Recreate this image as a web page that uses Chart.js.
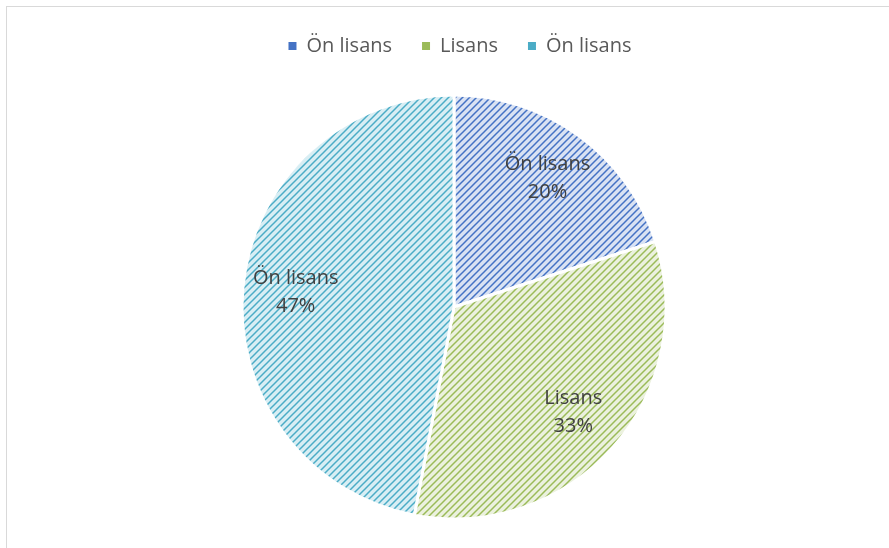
<!DOCTYPE html>
<html lang="tr">
<head>
    <meta charset="UTF-8">
    <title>Öğrenim durumu</title>
    <script src="https://cdn.jsdelivr.net/npm/chart.js"></script>
    <style>
        html, body { margin: 0; padding: 0; overflow: hidden; background: #fff; }
        /* ince gri çerçeve */
        #frame {
            position: absolute; left: 6px; top: 6px;
            width: 900px; height: 600px;
            border: 1px solid #d9d9d9;
        }
        #wrap { position: absolute; left: 0; top: 0; width: 889px; height: 548px; }
    </style>
</head>
<body>
    <div id="frame"></div>
    <div id="wrap"><canvas id="pieChart" width="889" height="548"></canvas></div>
    <script>
        // veriler
        var labels = ['Ön lisans', 'Lisans', 'Ön lisans'];
        var values = [20, 33, 47];
        var lineColors = ['#4472c4', '#9bbb59', '#4bacc6'];
        var backColors = ['#d9e2f3', '#ebf1de', '#d8eef4'];

        // çapraz taralı desen
        function hatch(fg, bg) {
            var size = 7;
            var c = document.createElement('canvas');
            c.width = size; c.height = size;
            var g = c.getContext('2d');
            g.fillStyle = bg;
            g.fillRect(0, 0, size, size);
            g.strokeStyle = fg;
            g.lineWidth = 1.5;
            g.beginPath();
            g.moveTo(-1, size + 1); g.lineTo(size + 1, -1);
            g.moveTo(-1, 1); g.lineTo(1, -1);
            g.moveTo(size - 1, size + 1); g.lineTo(size + 1, size - 1);
            g.stroke();
            return g.createPattern(c, 'repeat');
        }
        var fills = lineColors.map(function (fg, i) { return hatch(fg, backColors[i]); });

        // lejantı biraz sağa kaydır
        var legendShift = {
            id: 'legendShift',
            afterLayout: function (chart) {
                chart.legend.left += 6;
                chart.legend.right += 6;
            }
        };

        // dilim içi etiketler
        var sliceLabels = {
            id: 'sliceLabels',
            afterDatasetsDraw: function (chart) {
                var ctx = chart.ctx;
                var meta = chart.getDatasetMeta(0);
                var total = values.reduce(function (a, b) { return a + b; }, 0);
                ctx.save();
                ctx.font = '20px "Open Sans"';
                ctx.fillStyle = '#404040';
                ctx.textAlign = 'center';
                ctx.textBaseline = 'middle';
                meta.data.forEach(function (arc, i) {
                    var p = arc.getProps(['x', 'y', 'startAngle', 'endAngle', 'outerRadius']);
                    var mid = (p.startAngle + p.endAngle) / 2;
                    var r = p.outerRadius * 0.75;
                    var x = p.x + Math.cos(mid) * r;
                    var y = p.y + Math.sin(mid) * r;
                    ctx.fillText(labels[i], x, y - 14);
                    ctx.fillText(Math.round(values[i] / total * 100) + '%', x, y + 14);
                });
                ctx.restore();
            }
        };

        var ctxPie = document.getElementById('pieChart').getContext('2d');
        new Chart(ctxPie, {
            type: 'pie',
            data: {
                labels: labels,
                datasets: [{
                    data: values,
                    backgroundColor: fills,
                    borderColor: '#ffffff',
                    borderWidth: 3,
                    radius: 212
                }]
            },
            options: {
                responsive: false,
                animation: false,
                layout: { padding: { top: 6, bottom: -4, left: 19 } },
                plugins: {
                    tooltip: { enabled: false },
                    legend: {
                        position: 'top',
                        labels: {
                            boxWidth: 8,
                            boxHeight: 8,
                            padding: 30,
                            color: '#595959',
                            font: { family: '"Open Sans"', size: 20 },
                            generateLabels: function (chart) {
                                return labels.map(function (t, i) {
                                    return {
                                        text: t,
                                        fillStyle: lineColors[i],
                                        strokeStyle: lineColors[i],
                                        lineWidth: 0,
                                        fontColor: '#595959',
                                        index: i
                                    };
                                });
                            }
                        }
                    }
                }
            },
            plugins: [legendShift, sliceLabels]
        });
    </script>
</body>
</html>
